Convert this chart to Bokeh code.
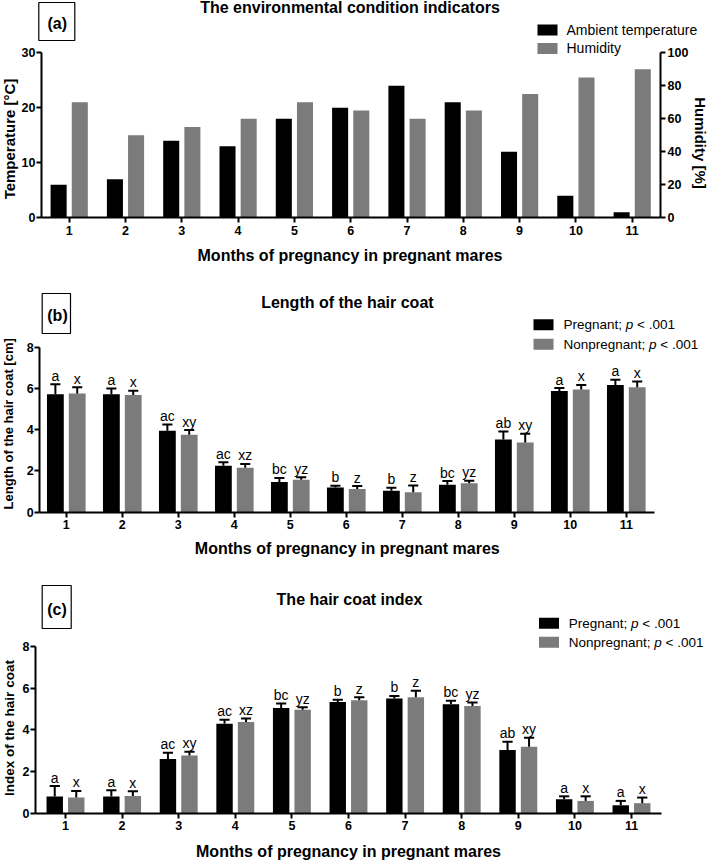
import math
from bokeh.plotting import figure
from bokeh.models import Range1d, LinearAxis, FixedTicker, Label
from bokeh.layouts import column
from bokeh.embed import file_html
from bokeh.resources import INLINE
from bokeh.core.properties import value

# ---------------- data ----------------
months = ["1", "2", "3", "4", "5", "6", "7", "8", "9", "10", "11"]
month_pos = [1, 2, 3, 4, 5, 6, 7, 8, 9, 10, 11]

temperature = [6, 7, 14, 13, 18, 20, 24, 21, 12, 4, 1]
humidity = [70, 50, 55, 60, 70, 65, 60, 65, 75, 85, 90]
temp_ticks = [0, 10, 20, 30]
hum_ticks = [0, 20, 40, 60, 80, 100]

length_preg = [5.72, 5.72, 3.95, 2.25, 1.46, 1.20, 1.04, 1.33, 3.52, 5.88, 6.17]
length_preg_err = [0.48, 0.28, 0.30, 0.17, 0.20, 0.08, 0.15, 0.18, 0.39, 0.14, 0.25]
length_non = [5.76, 5.68, 3.76, 2.15, 1.57, 1.13, 0.97, 1.40, 3.38, 5.95, 6.06]
length_non_err = [0.30, 0.21, 0.22, 0.19, 0.13, 0.14, 0.33, 0.13, 0.42, 0.22, 0.28]

index_preg = [0.80, 0.80, 2.60, 4.29, 5.05, 5.34, 5.51, 5.23, 3.03, 0.67, 0.38]
index_preg_err = [0.50, 0.30, 0.30, 0.19, 0.21, 0.11, 0.12, 0.17, 0.40, 0.14, 0.21]
index_non = [0.75, 0.83, 2.77, 4.38, 4.97, 5.42, 5.56, 5.15, 3.19, 0.59, 0.48]
index_non_err = [0.32, 0.22, 0.18, 0.16, 0.11, 0.14, 0.32, 0.16, 0.43, 0.22, 0.27]

letters_preg = ["a", "a", "ac", "ac", "bc", "b", "b", "bc", "ab", "a", "a"]
letters_non = ["x", "x", "xy", "xz", "yz", "z", "z", "yz", "xy", "x", "x"]
coat_ticks = [0, 2, 4, 6, 8]

# ---------------- style / layout ----------------
FONT = "Liberation Sans"
BLACK = "#000000"
GREY = "#7b7b7b"
W = 709


class Panel:
    """One figure whose frame fills the whole canvas; px/py are page pixels."""

    def __init__(self, top, height, base_px, ytop_px, ytop_val, tick1, cat, axis_l, axis_r):
        self.top, self.height = top, height
        self.bottom = top + height
        self.base_px = base_px
        self.ypx = (base_px - ytop_px) / ytop_val
        self.tick1, self.cat = tick1, cat
        p = figure(width=W, height=height,
                   x_range=Range1d(self.dx(0), self.dx(W)),
                   y_range=Range1d(self.dy(self.bottom), self.dy(top)),
                   output_backend="svg", toolbar_location=None, min_border=0)
        p.xgrid.visible = False
        p.ygrid.visible = False
        p.outline_line_color = None
        p.background_fill_color = "white"
        p.border_fill_color = "white"
        self.p = p
        self.xl, self.xr = self.dx(axis_l), self.dx(axis_r)

    def dx(self, px):
        return 1 + (px - self.tick1) / self.cat

    def dy(self, py):
        return (self.base_px - py) / self.ypx

    def label(self, px, py, text, size, style="normal", align="left", angle=0.0):
        # py is the visual vertical centre of the text line
        self.p.add_layout(Label(x=px, y=self.bottom - py,
                                x_units="screen", y_units="screen", text=text,
                                text_font=FONT, text_font_size=f"{size}px",
                                text_font_style=style, text_align=align,
                                text_baseline="middle", angle=angle,
                                text_color="black"))

    def box(self, l, r, t, b):
        self.p.rect(x=[self.dx((l + r) / 2)], y=[self.dy((t + b) / 2)],
                    width=r - l, height=b - t, width_units="screen",
                    height_units="screen", fill_color=None,
                    line_color="black", line_width=1.2)

    def square(self, cx, cy, color):
        self.p.rect(x=[self.dx(cx)], y=[self.dy(cy)], width=20, height=11,
                    width_units="screen", height_units="screen",
                    fill_color=color, line_color=None)


def style_axis(ax, size="12.5px", standoff=1):
    ax.axis_line_width = 2
    ax.axis_line_color = "black"
    ax.major_tick_line_width = 2
    ax.major_tick_line_color = "black"
    ax.major_tick_out = 5
    ax.major_tick_in = 0
    ax.minor_tick_line_color = None
    ax.major_label_text_font = FONT
    ax.major_label_text_font_size = size
    ax.major_label_text_font_style = "bold"
    ax.major_label_text_color = "black"
    ax.major_label_standoff = standoff


def setup_axes(pn, ticks, bound_top):
    xa = pn.p.xaxis[0]
    style_axis(xa, standoff=3)
    xa.ticker = FixedTicker(ticks=month_pos)
    xa.major_label_overrides = {m: s for m, s in zip(month_pos, months)}
    xa.fixed_location = 0
    xa.bounds = (pn.xl, pn.xr)
    ya = pn.p.yaxis[0]
    style_axis(ya)
    ya.ticker = FixedTicker(ticks=ticks)
    ya.fixed_location = pn.xl
    ya.bounds = (0, bound_top)


def legend_p(pn, sq_x, text_x, rows, fs=13.5):
    names = ["Pregnant;", "Nonpregnant;"]
    adv = [4.614, 6.337]  # em advance of "Pregnant; " / "Nonpregnant; "
    colors = [BLACK, GREY]
    for name, a, c, ry in zip(names, adv, colors, rows):
        pn.square(sq_x, ry, c)
        pn.label(text_x, ry, name, fs)
        pn.label(text_x + a * fs, ry, "p", fs, style="italic")
        pn.label(text_x + (a + 0.556 + 0.278) * fs, ry, "< .001", fs)


def bars_with_err(pn, vals, errs, letters, off, width, color):
    p = pn.p
    xs = [m + off for m in month_pos]
    p.vbar(x=xs, top=vals, width=width, bottom=0, fill_color=color, line_color=None)
    tops = [v + e for v, e in zip(vals, errs)]
    p.segment(x0=xs, y0=vals, x1=xs, y1=tops, line_color="black", line_width=2)
    cap = 0.09
    p.segment(x0=[x - cap for x in xs], y0=tops, x1=[x + cap for x in xs], y1=tops,
              line_color="black", line_width=2)
    lift = 8.5 / pn.ypx
    p.text(x=xs, y=[t + lift for t in tops], text=letters, text_align="center",
           text_baseline="middle", text_font=value(FONT),
           text_font_size="14px", text_color="black")


XTITLE = "Months of pregnancy in pregnant mares"

# ================= panel (a) =================
A = Panel(top=0, height=290, base_px=217.3, ytop_px=52.3, ytop_val=30,
          tick1=68.7, cat=56.3, axis_l=41, axis_r=660)
pa = A.p
hum_scale = 100 / 30
pa.extra_y_ranges = {"hum": Range1d(A.dy(290) * hum_scale, A.dy(0) * hum_scale)}
pa.vbar(x=[m - 0.188 for m in month_pos], top=temperature, width=0.285,
        fill_color=BLACK, line_color=None)
pa.vbar(x=[m + 0.188 for m in month_pos], top=humidity, width=0.285,
        fill_color=GREY, line_color=None, y_range_name="hum")
setup_axes(A, temp_ticks, 30)
yr = LinearAxis(y_range_name="hum", ticker=FixedTicker(ticks=hum_ticks), bounds=(0, 100),
                fixed_location=A.xr)
style_axis(yr, standoff=2)
pa.add_layout(yr, "right")

A.label(349.5, 6.5, "The environmental condition indicators", 16, style="bold", align="center")
A.box(38.3, 74.3, 2, 40)
A.label(56.7, 22.5, "(a)", 16, style="bold", align="center")
A.square(547, 29.5, BLACK)
A.square(547, 48, GREY)
A.label(566, 29, "Ambient temperature", 14)
A.label(566, 47.5, "Humidity", 14)
A.label(8.5, 138.5, "Temperature [°C]", 15, style="bold", align="center", angle=math.pi / 2)
A.label(699.5, 142.5, "Humidity [%]", 15, style="bold", align="center", angle=-math.pi / 2)
A.label(349.5, 254.5, XTITLE, 16, style="bold", align="center")

# ================= panel (b) =================
B = Panel(top=290, height=280, base_px=511.7, ytop_px=346.7, ytop_val=8,
          tick1=65.8, cat=56.0, axis_l=39.3, axis_r=654)
bars_with_err(B, length_preg, length_preg_err, letters_preg, -0.195, 0.3, BLACK)
bars_with_err(B, length_non, length_non_err, letters_non, 0.195, 0.3, GREY)
setup_axes(B, coat_ticks, 8)
B.label(346.9, 301.5, "Length of the hair coat", 16, style="bold", align="center")
B.box(41.7, 70, 293, 333)
B.label(57, 315, "(b)", 16, style="bold", align="center")
legend_p(B, 543, 563, [324.3, 343.7])
B.label(8, 423.3, "Length of the hair coat [cm]", 13, style="bold", align="center",
        angle=math.pi / 2)
B.label(346.8, 547.5, XTITLE, 16, style="bold", align="center")

# ================= panel (c) =================
C = Panel(top=570, height=290, base_px=812.7, ytop_px=646, ytop_val=8,
          tick1=65, cat=56.6, axis_l=35, axis_r=660.7)
bars_with_err(C, index_preg, index_preg_err, letters_preg, -0.19, 0.29, BLACK)
bars_with_err(C, index_non, index_non_err, letters_non, 0.19, 0.29, GREY)
setup_axes(C, coat_ticks, 8)
C.label(349, 599.2, "The hair coat index", 16, style="bold", align="center")
C.box(41.7, 70.7, 585, 628)
C.label(56.5, 609, "(c)", 16, style="bold", align="center")
legend_p(C, 548.5, 568.3, [622.7, 641.7])
C.label(8.5, 727.5, "Index of the hair coat", 13.5, style="bold", align="center",
        angle=math.pi / 2)
C.label(348, 850.5, XTITLE, 16, style="bold", align="center")

layout = column(A.p, B.p, C.p, spacing=0)
open("out.html", "w").write(file_html(layout, INLINE))
